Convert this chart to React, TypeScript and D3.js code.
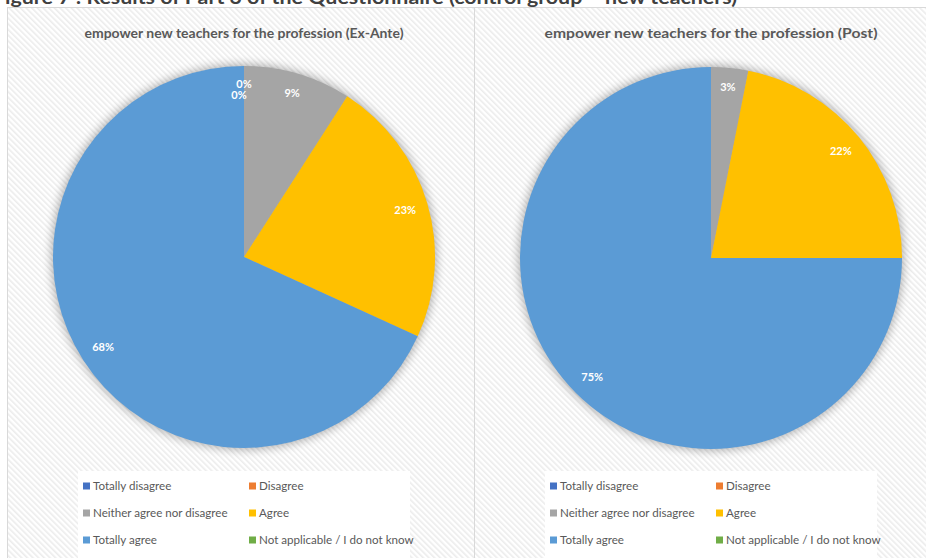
import React, { useEffect } from "react";
import * as d3 from "d3";

const CATEGORIES = [
  "Totally disagree",
  "Disagree",
  "Neither agree nor disagree",
  "Agree",
  "Totally agree",
  "Not applicable / I do not know",
];
const COLORS = ["#4472C4", "#ED7D31", "#A5A5A5", "#FFC000", "#5B9BD5", "#70AD47"];
const EX_ANTE = [0, 0, 9.09, 22.73, 68.18, 0];
const POST = [0, 0, 3.13, 21.87, 75, 0];
const CHART_TITLES = [
  "empower new teachers for the profession (Ex-Ante)",
  "empower new teachers for the profession (Post)",
];
const SHOW_ZERO = [true, false];
const FIGURE_CAPTION =
  "Figure 7 : Results of Part 3 of the Questionnaire (control group – new teachers)";

const W = 926;
const H = 558;
const FONT = "Lato, 'Open Sans', sans-serif";

type PanelProps = {
  x0: number;
  values: number[];
  title: string;
  showZero: boolean;
  idx: number;
};

function Panel({ x0, values, title, showZero, idx }: PanelProps) {
  const cx = x0 + 237;
  const cy = 257 + idx;
  const R = 191;
  const pie = d3
    .pie<number>()
    .sort(null)
    .value((d) => d)
    .startAngle(0)
    .endAngle(2 * Math.PI);
  const arcs = pie(values);
  const arc = d3.arc<d3.PieArcDatum<number>>().innerRadius(0).outerRadius(R);
  const total = d3.sum(values);

  const placed: { x: number; y: number; w: number; h: number }[] = [];
  const labels: { x: number; y: number; text: string }[] = [];
  arcs.forEach((a) => {
    if (a.value === 0 && !showZero) return;
    const text = Math.round((a.value / total) * 100) + "%";
    const w = text.length * 6.2;
    const h = 12;
    const th = (a.startAngle + a.endAngle) / 2;
    const s = Math.sin(th);
    const c = -Math.cos(th);
    let d = R;
    while (d > 0) {
      const dx = Math.abs(d * s) + w / 2;
      const dy = Math.abs(d * c) + h / 2;
      if (Math.sqrt(dx * dx + dy * dy) <= R - 12) break;
      d -= 0.5;
    }
    let lx = d * s;
    let ly = d * c;
    const overlaps = (x: number, y: number) =>
      placed.some((p) => Math.abs(p.x - x) < (p.w + w) / 2 - 2 && Math.abs(p.y - y) < (p.h + h) / 2 - 1);
    if (overlaps(lx, ly)) {
      lx -= 5;
      ly += 11;
      if (overlaps(lx, ly)) return;
    }
    placed.push({ x: lx, y: ly, w, h });
    labels.push({ x: lx, y: ly, text });
  });

  const legendX = cx - 166;
  const legendY = 471;
  const colX = [legendX + 5, legendX + 171];
  const rowY = [486, 513, 540];

  return (
    <g>
      <rect x={x0 + 0.5} y={7.5} width={470} height={H} fill="url(#hatch)" stroke="#d9d9d9" strokeWidth={1} />
      <text
        x={cx}
        y={38}
        textAnchor="middle"
        fontFamily={FONT}
        fontWeight="bold"
        fontSize={14}
        fill="#595959"
        textLength={idx === 0 ? 319 : 333}
        lengthAdjust="spacingAndGlyphs"
      >
        {title}
      </text>
      <circle cx={cx} cy={cy} r={R + 1.5} fill="#000" opacity={0.3} filter="url(#glow)" />
      <g transform={`translate(${cx},${cy})`}>
        {arcs.map((a, i) => (
          <path key={i} d={arc(a) || ""} fill={COLORS[i]} />
        ))}
        {labels.map((l, i) => (
          <text
            key={i}
            x={l.x}
            y={l.y}
            dy="0.35em"
            textAnchor="middle"
            fontFamily={FONT}
            fontWeight="bold"
            fontSize={11}
            fill="#ffffff"
          >
            {l.text}
          </text>
        ))}
      </g>
      <rect x={legendX} y={legendY} width={332} height={H - legendY} fill="#ffffff" />
      {CATEGORIES.map((cat, i) => {
        const col = i % 2;
        const row = Math.floor(i / 2);
        const x = colX[col];
        const y = rowY[row];
        return (
          <g key={cat}>
            <rect x={x} y={y - 3.5} width={7} height={7} fill={COLORS[i]} />
            <text x={x + 10} y={y} dy="0.35em" fontFamily={FONT} fontSize={11.6} fill="#595959">
              {cat}
            </text>
          </g>
        );
      })}
    </g>
  );
}

export default function App() {
  useEffect(() => {
    document.body.style.margin = "0";
  }, []);
  return (
    <svg width={W} height={H} style={{ display: "block", position: "absolute", left: 0, top: 0 }}>
      <defs>
        <pattern id="hatch" patternUnits="userSpaceOnUse" width={4} height={4} patternTransform="rotate(-45)">
          <rect width={4} height={4} fill="#ffffff" />
          <rect width={1.6} height={4} fill="#ececec" />
        </pattern>
        <filter id="glow" x="-20%" y="-20%" width="140%" height="140%">
          <feGaussianBlur stdDeviation={5} />
        </filter>
      </defs>
      <rect width={W} height={H} fill="#ffffff" />
      <text
        x={-7}
        y={4}
        fontFamily={FONT}
        fontWeight="bold"
        fontSize={18}
        fill="#404040"
        textLength={744}
        lengthAdjust="spacingAndGlyphs"
      >
        {FIGURE_CAPTION}
      </text>
      <Panel x0={7} values={EX_ANTE} title={CHART_TITLES[0]} showZero={SHOW_ZERO[0]} idx={0} />
      <Panel x0={474} values={POST} title={CHART_TITLES[1]} showZero={SHOW_ZERO[1]} idx={1} />
    </svg>
  );
}
